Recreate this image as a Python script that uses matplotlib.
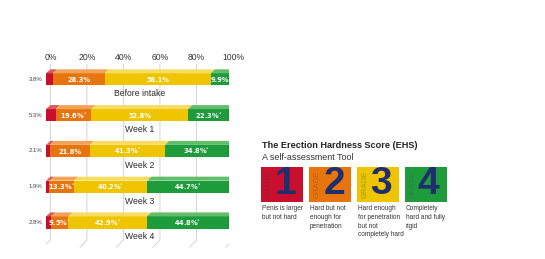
import matplotlib.pyplot as plt
from matplotlib.patches import Polygon
from matplotlib import font_manager

plt.rcParams["mathtext.fontset"] = "custom"
plt.rcParams["mathtext.bf"] = "Liberation Sans:bold"
plt.rcParams["mathtext.rm"] = "DejaVu Sans"

# data
periods = ["Before intake", "Week 1", "Week 2", "Week 3", "Week 4"]
grade1 = [3.8, 5.3, 2.1, 1.9, 2.8]
grade2 = [28.3, 19.6, 21.8, 13.3, 9.5]
grade3 = [58.1, 52.8, 41.3, 40.2, 42.9]
grade4 = [9.9, 22.3, 34.8, 44.7, 44.8]
# significance markers (grade2, grade3, grade4)
star2 = [False, True, False, True, True]
star3 = [False, False, True, True, True]
star4 = [False, True, True, True, True]
ticks = [0, 20, 40, 60, 80, 100]

grade_names = ["1", "2", "3", "4"]
grade_desc = ["Penis is larger\nbut not hard",
              "Hard but not\nenough for\npenetration",
              "Hard enough\nfor penetration\nbut not\ncompletely hard",
              "Completely\nhard and fully\nrigid"]

front = ["#c8102e", "#e8740e", "#efc400", "#1e9b3b"]
top = ["#dc5a5a", "#f2a35a", "#f6dc62", "#62bd6a"]
grade_txt = ["#9c1a34", "#c0600e", "#a89428", "#2a7f4c"]

SANS = ["Liberation Sans", "DejaVu Sans"]
names = {f.name for f in font_manager.fontManager.ttflist}
if "Liberation Sans Narrow" in names:
    NARROW, desc_size = ["Liberation Sans Narrow", "Liberation Sans"], 5.6
else:
    NARROW, desc_size = SANS, 4.7

fig = plt.figure(figsize=(5.45, 2.59), dpi=100)
W, H = 545, 259

# ---- stacked 3D-ish bars ----
ax = fig.add_axes([46 / W, 0, 182.6 / W, 1])
ax.set_xlim(0, 100)
ax.set_ylim(5.02, -2.22)
ax.axis("off")

dx, dy, bh = 2.4, 0.112, 0.34

for v in ticks:
    ax.plot([v + dx, v + dx, v + dx - 3.8], [-0.42, 4.49, 4.69],
            color="#d4d4d4", lw=0.7, zorder=0)
    ax.text(v + dx, -0.6, f"{v}%", ha="center", va="center",
            fontsize=6.2, color="#333333", family=SANS)

for i, name in enumerate(periods):
    vals = [grade1[i], grade2[i], grade3[i], grade4[i]]
    stars = [False, star2[i], star3[i], star4[i]]
    left = 0
    yt = i - bh / 2
    for k, v in enumerate(vals):
        ax.barh(i, v, left=left, height=bh, color=front[k], zorder=2)
        ax.add_patch(Polygon([(left, yt), (left + v, yt), (left + v + dx, yt - dy),
                              (left + dx, yt - dy)], closed=True,
                             color=top[k], zorder=2, lw=0))
        if k > 0:
            s = f"{v}%" + ("$^{*}$" if stars[k] else "")
            ax.text(left + v / 2, i + 0.02, s, ha="center", va="center",
                    fontsize=4.8, color="white", fontweight="bold", zorder=3)
        left += v
    # side face
    ax.add_patch(Polygon([(left, yt), (left + dx, yt - dy), (left + dx, i + bh / 2 - dy),
                          (left, i + bh / 2)], closed=True, color="#137a2c",
                         zorder=2, lw=0))
    ax.text(-1.8, i, f"{grade1[i]}%", ha="right", va="center",
            fontsize=4.3, color="#444444", family=SANS)
    ax.text(51.5, i + 0.4, name, ha="center", va="center",
            fontsize=6.2, color="#2a2a2a", family=SANS)

# ---- EHS legend panel ----
ax2 = fig.add_axes([258.5 / W, 0, 191.6 / W, 1])
ax2.set_xlim(-0.5, 3.5)
ax2.set_ylim(H, 0)
ax2.axis("off")

ax2.text(-0.43, 145, "The Erection Hardness Score (EHS)", fontsize=6.6,
         fontweight="bold", color="#222222", va="center", ha="left", family=SANS)
ax2.text(-0.43, 157.5, "A self-assessment Tool", fontsize=6.4,
         color="#333333", va="center", ha="left", family=SANS)

for k, g in enumerate(grade_names):
    ax2.bar(k, 35, bottom=166.7, width=0.875, color=front[k])
    ax2.text(k - 0.275, 184, "GRADE", rotation=90, ha="center", va="center",
             fontsize=5.5, color=grade_txt[k], family=SANS)
    ax2.text(k + 0.3, 201.5, r"$\mathbf{" + g + "}$", ha="right", va="bottom",
             fontsize=28, color="#1f2f6e")
    ax2.text(k - 0.43, 205.5, grade_desc[k], ha="left", va="top", fontsize=desc_size,
             color="#333333", linespacing=1.3, family=NARROW)

fig.savefig("out.png", dpi=100, facecolor="white")
